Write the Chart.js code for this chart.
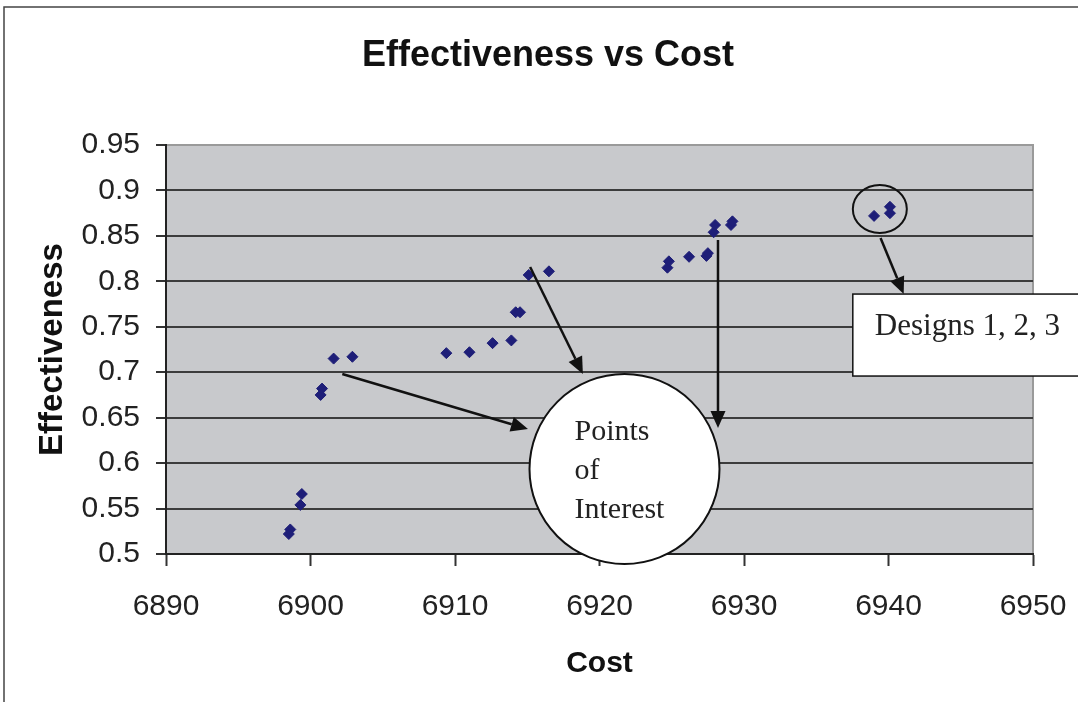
<!DOCTYPE html>
<html>
<head>
<meta charset="utf-8">
<script src="https://cdn.jsdelivr.net/npm/chart.js@4"></script>
<style>
  html, body { margin: 0; padding: 0; background: #fff; }
  #wrap { width: 1078px; height: 702px; position: relative; }
</style>
</head>
<body>
<div id="wrap"><canvas id="effChart"></canvas></div>
<script>
// values
const costValues = [6898.6, 6898.5, 6899.3, 6899.4, 6900.7, 6900.8, 6901.6, 6902.9,
    6909.4, 6911.0, 6912.6, 6913.9, 6914.2, 6914.5, 6915.1, 6916.5,
    6924.7, 6924.8, 6926.2, 6927.4, 6927.5, 6927.9, 6928.0, 6929.1, 6929.2,
    6939.0, 6940.1, 6940.1];
const effectivenessValues = [0.527, 0.522, 0.554, 0.566, 0.675, 0.682, 0.715, 0.717,
    0.721, 0.722, 0.732, 0.735, 0.766, 0.766, 0.807, 0.811,
    0.815, 0.822, 0.827, 0.828, 0.831, 0.854, 0.862, 0.862, 0.866,
    0.872, 0.875, 0.882];
const xTicks = [6890, 6900, 6910, 6920, 6930, 6940, 6950];
const yTicks = [0.5, 0.55, 0.6, 0.65, 0.7, 0.75, 0.8, 0.85, 0.9, 0.95];

const chartTitle = 'Effectiveness vs Cost';

// callouts, in data units: [fromCost, fromEff, toCost, toEff]
const arrows = [
    [6902.2, 0.698, 6915.05, 0.6375],
    [6915.2, 0.8158, 6918.85, 0.698],
    [6928.2, 0.8455, 6928.2, 0.6386],
    [6939.45, 0.8477, 6941.05, 0.786]
];
const designsCircle = { cost: 6939.4, eff: 0.8796 };
const poiCircle = { cost: 6921.73, eff: 0.5935, lines: ['Points', 'of', 'Interest'] };
const designsBox = { cost: 6937.53, top: 0.786, bottom: 0.6958, text: 'Designs 1, 2, 3' };

const sans = '"Liberation Sans", Arial, sans-serif';
const serif = '"Liberation Serif", "Times New Roman", serif';

const points = costValues.map((c, i) => ({ x: c, y: effectivenessValues[i] }));

const backdrop = {
    id: 'backdrop',
    beforeDraw(chart) {
        const ctx = chart.ctx, a = chart.chartArea;
        ctx.save();
        ctx.fillStyle = '#fff';
        ctx.fillRect(0, 0, chart.width, chart.height);
        ctx.strokeStyle = '#444';
        ctx.lineWidth = 1.5;
        ctx.strokeRect(4, 7, chart.width + 20, chart.height + 20);
        ctx.fillStyle = '#c8c9cc';
        ctx.fillRect(a.left, a.top, a.right - a.left, a.bottom - a.top);
        ctx.strokeStyle = '#9a9a9a';
        ctx.lineWidth = 2;
        ctx.strokeRect(a.left, a.top, a.right - a.left, a.bottom - a.top);

        ctx.fillStyle = '#111';
        ctx.font = 'bold 36px ' + sans;
        ctx.textAlign = 'center';
        ctx.textBaseline = 'middle';
        ctx.fillText(chartTitle, 548, 56);
        ctx.restore();
    }
};

function arrow(ctx, x1, y1, x2, y2) {
    const ang = Math.atan2(y2 - y1, x2 - x1);
    const len = 17, hw = 7.5;
    const bx = x2 - len * Math.cos(ang), by = y2 - len * Math.sin(ang);
    ctx.beginPath();
    ctx.moveTo(x1, y1);
    ctx.lineTo(bx, by);
    ctx.stroke();
    ctx.beginPath();
    ctx.moveTo(x2, y2);
    ctx.lineTo(bx + hw * Math.sin(ang), by - hw * Math.cos(ang));
    ctx.lineTo(bx - hw * Math.sin(ang), by + hw * Math.cos(ang));
    ctx.closePath();
    ctx.fill();
}

const callouts = {
    id: 'callouts',
    afterDatasetsDraw(chart) {
        const ctx = chart.ctx, xs = chart.scales.x, ys = chart.scales.y;
        ctx.save();
        ctx.strokeStyle = '#111';
        ctx.fillStyle = '#111';
        ctx.lineWidth = 2.5;
        arrows.forEach(a => arrow(ctx, xs.getPixelForValue(a[0]), ys.getPixelForValue(a[1]),
            xs.getPixelForValue(a[2]), ys.getPixelForValue(a[3])));

        // ring round designs 1-3
        ctx.lineWidth = 2;
        ctx.beginPath();
        ctx.ellipse(xs.getPixelForValue(designsCircle.cost), ys.getPixelForValue(designsCircle.eff), 27, 24, 0, 0, Math.PI * 2);
        ctx.stroke();

        // big white circle
        const cx = xs.getPixelForValue(poiCircle.cost), cy = ys.getPixelForValue(poiCircle.eff);
        ctx.beginPath();
        ctx.arc(cx, cy, 95, 0, Math.PI * 2);
        ctx.fillStyle = '#fff';
        ctx.fill();
        ctx.stroke();
        ctx.fillStyle = '#222';
        ctx.font = '30px ' + serif;
        ctx.textBaseline = 'alphabetic';
        ctx.textAlign = 'left';
        poiCircle.lines.forEach((t, i) => ctx.fillText(t, cx - 50, cy - 29 + i * 39));

        // text box
        const bx = xs.getPixelForValue(designsBox.cost);
        const bt = ys.getPixelForValue(designsBox.top), bb = ys.getPixelForValue(designsBox.bottom);
        ctx.fillStyle = '#fff';
        ctx.fillRect(bx, bt, chart.width, bb - bt);
        ctx.lineWidth = 1.5;
        ctx.strokeRect(bx, bt, chart.width, bb - bt);
        ctx.fillStyle = '#222';
        ctx.font = '31px ' + serif;
        ctx.fillText(designsBox.text, bx + 22, bt + 41);
        ctx.restore();
    }
};

new Chart(document.getElementById('effChart'), {
    type: 'scatter',
    data: {
        datasets: [{
            label: 'Designs',
            data: points,
            pointStyle: 'rectRot',
            pointRadius: 5.5,
            backgroundColor: '#1e1e78',
            borderColor: '#1e1e78',
            borderWidth: 1
        }]
    },
    options: {
        responsive: true,
        maintainAspectRatio: false,
        animation: false,
        layout: { padding: { left: 0, right: 45, top: 145, bottom: 0 } },
        plugins: {
            legend: { display: false },
            tooltip: { enabled: false },
            title: { display: false }
        },
        scales: {
            x: {
                type: 'linear',
                min: 6890,
                max: 6950,
                afterBuildTicks: s => { s.ticks = xTicks.map(v => ({ value: v })); },
                afterFit: s => { s.height = 148; s.paddingLeft = 0; s.paddingRight = 0; },
                ticks: {
                    color: '#222',
                    padding: 23,
                    maxRotation: 0,
                    font: { family: sans, size: 30 },
                    callback: v => String(v)
                },
                grid: { drawOnChartArea: false, tickLength: 12, tickColor: '#333', tickWidth: 2 },
                border: { color: '#222', width: 2 },
                title: {
                    display: true,
                    text: 'Cost',
                    color: '#111',
                    font: { family: sans, size: 30, weight: 'bold', lineHeight: 1.2 },
                    padding: { top: 0, bottom: 20 }
                }
            },
            y: {
                min: 0.5,
                max: 0.95,
                afterBuildTicks: s => { s.ticks = yTicks.map(v => ({ value: v })); },
                afterFit: s => { s.width = 166; s.paddingTop = 0; s.paddingBottom = 0; },
                ticks: {
                    color: '#222',
                    padding: 16,
                    font: { family: sans, size: 30 },
                    callback: v => String(Math.round(v * 100) / 100)
                },
                grid: {
                    color: c => (c.tick && c.tick.value === 0.95 ? '#9a9a9a' : '#3c3c3c'),
                    lineWidth: 2,
                    tickLength: 10,
                    tickColor: '#333',
                    tickWidth: 2
                },
                border: { color: '#222', width: 2 },
                title: {
                    display: true,
                    text: 'Effectiveness',
                    color: '#111',
                    font: { family: sans, size: 33, weight: 'bold', lineHeight: 1.2 },
                    padding: { top: 33, bottom: 0 }
                }
            }
        }
    },
    plugins: [backdrop, callouts]
});
</script>
</body>
</html>
